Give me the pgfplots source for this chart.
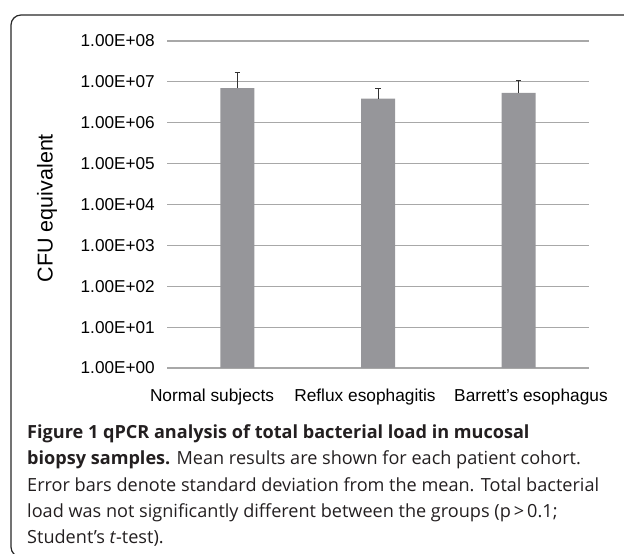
\documentclass[border=0pt]{standalone}
\usepackage{fontspec}
\setmainfont{Liberation Sans}
\newfontfamily\capfont{Open Sans}
\usepackage{pgfplots}
\pgfplotsset{compat=1.18}
\definecolor{barc}{RGB}{150,150,154}
\definecolor{gridc}{RGB}{168,168,168}
\definecolor{errc}{RGB}{50,50,50}
\definecolor{framec}{RGB}{40,40,40}
\definecolor{capc}{RGB}{35,31,32}
\begin{document}
\begin{tikzpicture}[x=1pt,y=1pt]
\useasboundingbox (0,0) rectangle (624,554);
\begin{scope}
\clip (0,0) rectangle (624,554);
\draw[line width=1.2pt, rounded corners=10pt, framec] (11,-3) rectangle (680,539);
\end{scope}
\begin{axis}[
  at={(167pt,186pt)}, anchor=south west,
  scale only axis, width=422pt, height=327pt,
  ymode=log, ymin=1, ymax=1e8,
  xmin=-0.5, xmax=2.5,
  axis line style={draw=none},
  major tick length=0pt, minor tick length=0pt,
  yminorticks=false, xminorticks=false,
  ymajorgrids, yminorgrids=false,
  major grid style={line width=1.1pt, gridc},
  ytick={1,10,100,1000,10000,100000,1000000,10000000,100000000},
  yticklabels={1.00E+00,1.00E+01,1.00E+02,1.00E+03,1.00E+04,1.00E+05,1.00E+06,1.00E+07,1.00E+08},
  yticklabel style={font=\fontsize{17.2}{20}\selectfont, anchor=east, inner sep=0pt, xshift=-12pt},
  xtick={-0.18,0.9076,2.0876},
  xticklabels={Normal subjects, Reflux esophagitis, Barrett’s esophagus},
  xticklabel style={font=\fontsize{17.3}{20}\selectfont, anchor=base, inner sep=0pt, yshift=-34pt},
  ylabel={CFU equivalent},
  ylabel style={font=\fontsize{21.5}{24}\selectfont, at={(axis description cs:-0.284,0.489)}, anchor=center},
  ybar, bar width=34pt,
  clip=false,
]
\addplot[fill=barc, draw=none,
  error bars/.cd, y dir=plus, y explicit,
  error bar style={line width=1pt, errc},
  error mark options={rotate=90, mark size=2.6pt, line width=1.2pt, errc}]
  coordinates {
    (0,7.0e6) +- (0,1.0e7)
    (1,3.9e6) +- (0,2.95e6)
    (2,5.4e6) +- (0,5.4e6)
  };
\end{axis}
\begin{scope}[font=\capfont\fontsize{18.1}{26}\selectfont, text=capc]
\node[anchor=base west, inner sep=0pt] at (27,115.3) {\bfseries Figure 1 qPCR analysis of total bacterial load in mucosal};
\node[anchor=base west, inner sep=0pt] at (27,89.0) {\bfseries biopsy samples.\mdseries{} Mean results are shown for each patient cohort.};
\node[anchor=base west, inner sep=0pt] at (27,62.7) {Error bars denote standard deviation from the mean. Total bacterial};
\node[anchor=base west, inner sep=0pt] at (27,36.4) {load was not significantly different between the groups (p\,>\,0.1;};
\node[anchor=base west, inner sep=0pt] at (27,10.1) {Student’s \textit{t}-test).};
\end{scope}
\end{tikzpicture}
\end{document}
